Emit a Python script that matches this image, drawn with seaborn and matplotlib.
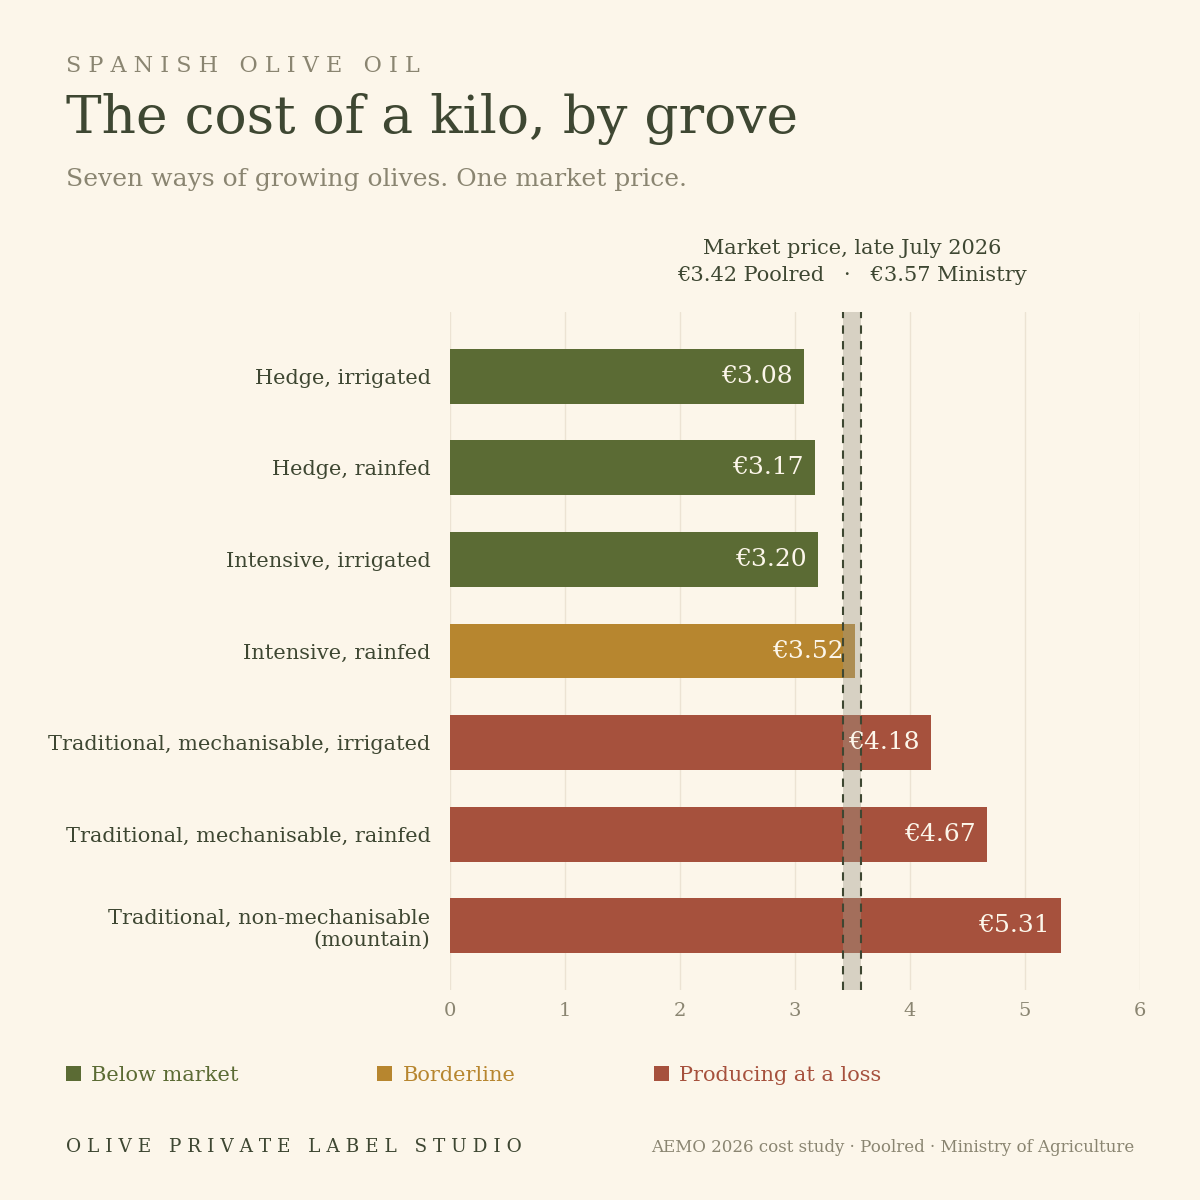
import pandas as pd
import matplotlib.pyplot as plt
import seaborn as sns
from matplotlib.patches import Patch

# Datos
groves = [
    'Hedge, irrigated',
    'Hedge, rainfed',
    'Intensive, irrigated',
    'Intensive, rainfed',
    'Traditional, mechanisable, irrigated',
    'Traditional, mechanisable, rainfed',
    'Traditional, non-mechanisable\n(mountain)',
]
costs = [3.08, 3.17, 3.20, 3.52, 4.18, 4.67, 5.31]
status = ['Below market', 'Below market', 'Below market', 'Borderline',
          'Producing at a loss', 'Producing at a loss', 'Producing at a loss']
poolred = 3.42
ministry = 3.57

# Colores
BG = '#fcf6ea'
DARK = '#3e4732'
GREY = '#8a8571'
palette = {'Below market': '#5b6b34', 'Borderline': '#b7862f',
           'Producing at a loss': '#a6513d'}

sns.set_theme(style='white')
plt.rcParams['font.family'] = ['DejaVu Serif']

df = pd.DataFrame({'grove': groves, 'cost': costs, 'status': status})

fig = plt.figure(figsize=(12, 12), dpi=100, facecolor=BG)
ax = fig.add_axes([0.375, 0.175, 0.575, 0.565])
ax.set_facecolor(BG)

sns.barplot(data=df, x='cost', y='grove', hue='status', palette=palette,
            dodge=False, width=0.6, legend=False, ax=ax, zorder=2,
            saturation=1, linewidth=0, edgecolor='none')

# banda de precio de mercado
ax.axvspan(poolred, ministry, color='#a09a8a', alpha=0.4, lw=0, zorder=3)
for v in (poolred, ministry):
    ax.axvline(v, color=DARK, lw=1.5, ls=(0, (4, 3.5)), zorder=4)

# etiquetas de valor
for i, c in enumerate(costs):
    ax.text(c - 0.1, i, f'€{c:.2f}', ha='right', va='center',
            color=BG, fontsize=18, zorder=5)

ax.set_xlim(0, 6)
ax.set_ylim(6.7, -0.7)
ax.set_xticks(range(7))
ax.grid(axis='x', color='#ece3d3', lw=1, zorder=0)
ax.grid(axis='y', visible=False)
for s in ax.spines.values():
    s.set_visible(False)
ax.set_xlabel('')
ax.set_ylabel('')
ax.tick_params(axis='x', colors=GREY, labelsize=14, length=0, pad=9)
ax.tick_params(axis='y', colors=DARK, labelsize=15, length=0, pad=14)
for t in ax.get_xticklabels():
    t.set_color(GREY)
for t in ax.get_yticklabels():
    t.set_color(DARK)
    t.set_ha('right')
    t.set_multialignment('right')

# anotacion mercado
mid = (poolred + ministry) / 2
ax.text(mid, 1.08, 'Market price, late July 2026', transform=ax.get_xaxis_transform(),
        ha='center', va='bottom', fontsize=15, color=DARK)
ax.text(mid, 1.04, '€3.42 Poolred   ·   €3.57 Ministry', transform=ax.get_xaxis_transform(),
        ha='center', va='bottom', fontsize=15, color=DARK)

# titulos
fig.text(0.055, 0.94, 'S P A N I S H   O L I V E   O I L', fontsize=16, color=GREY,
         va='baseline')
fig.text(0.055, 0.889, 'The cost of a kilo, by grove', fontsize=38.5, color=DARK,
         va='baseline')
fig.text(0.055, 0.845, 'Seven ways of growing olives. One market price.', fontsize=18,
         color=GREY, va='baseline')

# leyenda
handles = [Patch(facecolor=palette[k], edgecolor='none', label=k) for k in palette]
leg = fig.legend(handles=handles, loc='center left', bbox_to_anchor=(0.0553, 0.104),
                 ncol=3, frameon=False, fontsize=15, handlelength=0.72,
                 handleheight=0.72, handletextpad=0.48, columnspacing=6.65,
                 borderaxespad=0, borderpad=0)
for t, k in zip(leg.get_texts(), palette):
    t.set_color(palette[k])

# pie
fig.text(0.055, 0.04, 'O L I V E   P R I V A T E   L A B E L   S T U D I O',
         fontsize=13.3, color=DARK, va='baseline')
fig.text(0.945, 0.04, 'AEMO 2026 cost study · Poolred · Ministry of Agriculture',
         fontsize=12, color=GREY, ha='right', va='baseline')

fig.savefig('out.png', dpi=100, facecolor=BG)
